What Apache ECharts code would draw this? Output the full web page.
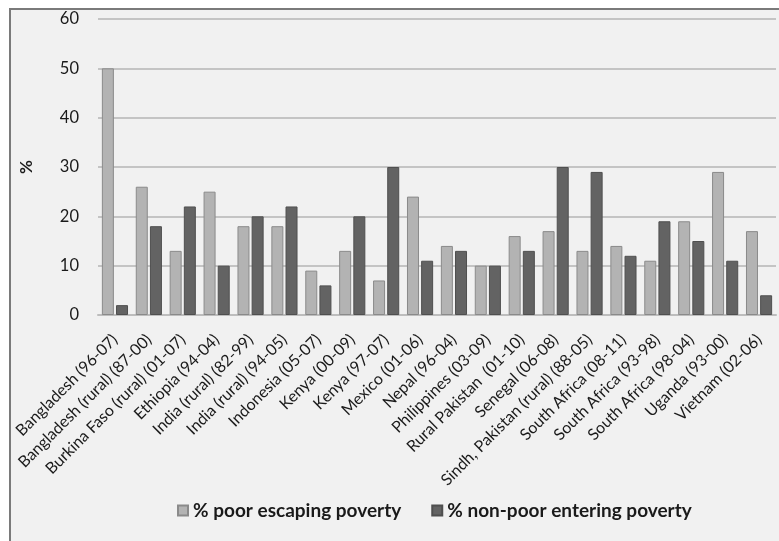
<!DOCTYPE html>
<html>
<head>
<meta charset="utf-8">
<script src="https://cdn.jsdelivr.net/npm/echarts@6/dist/echarts.min.js"></script>
<style>
html,body{margin:0;padding:0;background:#fff;}
#frame{position:absolute;left:9px;top:8px;width:790px;height:560px;border:2px solid #7a7a7a;background:#f1f1f1;box-sizing:border-box;}
#chart{position:absolute;left:0;top:0;width:779px;height:541px;}
</style>
</head>
<body>
<div id="frame"></div>
<div id="chart"></div>
<script>
const categories = [
  "Bangladesh (96-07)", "Bangladesh (rural) (87-00)", "Burkina Faso (rural) (01-07)",
  "Ethiopia (94-04)", "India (rural) (82-99)", "India (rural) (94-05)", "Indonesia (05-07)",
  "Kenya (00-09)", "Kenya (97-07)", "Mexico (01-06)", "Nepal (96-04)", "Philippines (03-09)",
  "Rural Pakistan  (01-10)", "Senegal (06-08)", "Sindh, Pakistan (rural) (88-05)",
  "South Africa (08-11)", "South Africa (93-98)", "South Africa (98-04)", "Uganda (93-00)",
  "Vietnam (02-06)"
];
const poorEscaping = [50, 26, 13, 25, 18, 18, 9, 13, 7, 24, 14, 10, 16, 17, 13, 14, 11, 19, 29, 17];
const nonPoorEntering = [2, 18, 22, 10, 20, 22, 6, 20, 30, 11, 13, 10, 13, 30, 29, 12, 19, 15, 11, 4];
const seriesNames = ["% poor escaping poverty", "% non-poor entering poverty"];

const FONT = "Lato, 'Open Sans', sans-serif";
const chart = echarts.init(document.getElementById('chart'), null, {renderer: 'canvas'});
chart.setOption({
  backgroundColor: 'transparent',
  animation: false,
  grid: {left: 98, right: 3, top: 19, bottom: 226, containLabel: false},
  legend: {
    data: seriesNames,
    left: 172, top: 496,
    itemWidth: 10, itemHeight: 10, itemGap: 30,
    icon: 'rect',
    textStyle: {fontFamily: FONT, fontSize: 19, fontWeight: 'bold', color: '#1a1a1a'}
  },
  xAxis: {
    type: 'category',
    data: categories,
    axisLine: {lineStyle: {color: '#bdbdbd', width: 2}},
    axisTick: {show: false},
    axisLabel: {rotate: 45, interval: 0, margin: 22,
      fontFamily: FONT, fontSize: 16, color: '#1a1a1a'}
  },
  yAxis: {
    type: 'value',
    min: 0, max: 60, interval: 10,
    name: '%',
    nameLocation: 'middle',
    nameGap: 63,
    nameRotate: 90,
    nameTextStyle: {fontFamily: FONT, fontSize: 17, fontWeight: 'bold', color: '#1a1a1a'},
    axisLine: {show: false},
    axisTick: {show: false},
    axisLabel: {margin: 19, fontFamily: FONT, fontSize: 16.5, color: '#1a1a1a'},
    splitLine: {lineStyle: {color: '#c4c4c4', width: 2}}
  },
  series: [
    {
      name: seriesNames[0], type: 'bar', data: poorEscaping,
      barWidth: 12, barGap: '18%',
      itemStyle: {color: '#b3b3b3', borderColor: '#8a8a8a', borderWidth: 1}
    },
    {
      name: seriesNames[1], type: 'bar', data: nonPoorEntering,
      barWidth: 12, barGap: '18%',
      itemStyle: {color: '#636363', borderColor: '#4f4f4f', borderWidth: 1}
    }
  ]
});
</script>
</body>
</html>
